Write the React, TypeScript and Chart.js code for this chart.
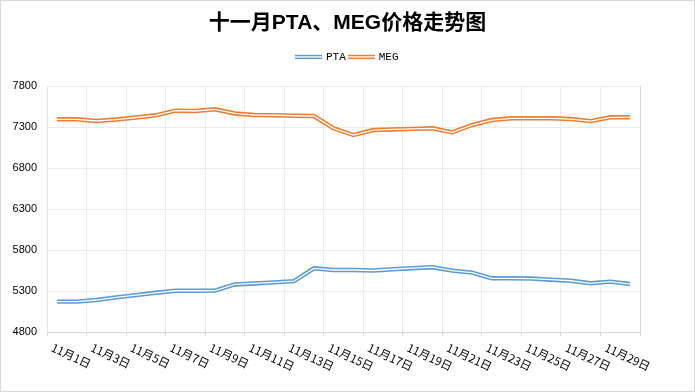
import React, { useEffect, useRef } from 'react';
import { Chart, registerables } from 'chart.js';

Chart.register(...registerables);

const titleText = '十一月PTA、MEG价格走势图';

const categories = [
  '11月1日', '11月2日', '11月3日', '11月4日', '11月5日', '11月6日', '11月7日', '11月8日', '11月9日', '11月10日',
  '11月11日', '11月12日', '11月13日', '11月14日', '11月15日', '11月16日', '11月17日', '11月18日', '11月19日', '11月20日',
  '11月21日', '11月22日', '11月23日', '11月24日', '11月25日', '11月26日', '11月27日', '11月28日', '11月29日', '11月30日',
];

const ptaValues = [
  5170, 5170, 5190, 5222, 5250, 5278, 5303, 5303, 5305, 5380,
  5392, 5405, 5420, 5576, 5556, 5556, 5550, 5565, 5578, 5590,
  5548, 5524, 5455, 5455, 5452, 5438, 5425, 5394, 5414, 5385,
];

const megValues = [
  7394, 7394, 7373, 7391, 7416, 7443, 7499, 7495, 7516, 7465,
  7446, 7443, 7437, 7434, 7284, 7202, 7263, 7270, 7277, 7284,
  7235, 7324, 7385, 7406, 7406, 7406, 7397, 7372, 7418, 7418,
];

const seriesNames = ['PTA', 'MEG'];
const seriesColors = ['#5b9bd5', '#ed7d31'];

const yMin = 4800;
const yMax = 7800;
const yStep = 500;

function makeLegendImage(color: string) {
  const c = document.createElement('canvas');
  c.width = 27;
  c.height = 6;
  const g = c.getContext('2d')!;
  g.fillStyle = color;
  g.fillRect(0, 0.8, 27, 1.5);
  g.fillRect(0, 3.6, 27, 1.5);
  return c;
}

const bgPlugin = {
  id: 'bgBorder',
  beforeDraw(chart: any) {
    const { ctx, width, height } = chart;
    ctx.save();
    ctx.fillStyle = '#ffffff';
    ctx.fillRect(0, 0, width, height);
    ctx.restore();
  },
  afterDraw(chart: any) {
    const { ctx, width, height } = chart;
    ctx.save();
    ctx.strokeStyle = '#d9d9d9';
    ctx.lineWidth = 1;
    ctx.strokeRect(0.5, 0.5, width - 1, height - 1);
    ctx.restore();
  },
};

const legendSpacer = {
  id: 'legendSpacer',
  beforeLayout(chart: any) {
    const lg = chart.legend;
    if (lg && !lg.__patched) {
      const orig = lg.fit;
      lg.fit = function () {
        orig.call(this);
        this.height += 13.5;
      };
      lg.__patched = true;
    }
  },
};

const doubleLine = {
  id: 'doubleLine',
  afterDatasetDraw(chart: any, args: any) {
    const pts = args.meta.data;
    if (!pts || !pts.length) return;
    const ctx = chart.ctx;
    ctx.save();
    ctx.beginPath();
    pts.forEach((p: any, i: number) => {
      if (i === 0) ctx.moveTo(p.x, p.y);
      else ctx.lineTo(p.x, p.y);
    });
    ctx.strokeStyle = '#ffffff';
    ctx.lineWidth = 1.3;
    ctx.lineJoin = 'miter';
    ctx.stroke();
    ctx.restore();
  },
};

const xLabels = {
  id: 'xLabels',
  afterDraw(chart: any) {
    const xs = chart.scales.x;
    const ctx = chart.ctx;
    const bottom = chart.chartArea.bottom;
    ctx.save();
    ctx.fillStyle = '#000000';
    ctx.font = '11.5px "Noto Sans CJK SC", sans-serif';
    ctx.textAlign = 'left';
    ctx.textBaseline = 'top';
    for (let i = 0; i < categories.length; i += 2) {
      const x = xs.getPixelForValue(i);
      ctx.save();
      ctx.translate(x - 2.4, bottom + 9.5);
      ctx.rotate((25 * Math.PI) / 180);
      ctx.fillText(categories[i], 0, 0);
      ctx.restore();
    }
    ctx.restore();
  },
};

export default function App() {
  const ref = useRef<HTMLCanvasElement | null>(null);

  useEffect(() => {
    document.body.style.margin = '0';
    const canvas = ref.current;
    if (!canvas) return;
    const legendImgs = seriesColors.map(makeLegendImage);
    const chart = new Chart(canvas, {
      type: 'line',
      data: {
        labels: categories,
        datasets: [
          {
            label: seriesNames[0],
            data: ptaValues,
            borderColor: seriesColors[0],
            backgroundColor: seriesColors[0],
            borderWidth: 4.4,
            pointRadius: 0,
            pointHoverRadius: 0,
            tension: 0,
            fill: false,
          },
          {
            label: seriesNames[1],
            data: megValues,
            borderColor: seriesColors[1],
            backgroundColor: seriesColors[1],
            borderWidth: 4.4,
            pointRadius: 0,
            pointHoverRadius: 0,
            tension: 0,
            fill: false,
          },
        ],
      },
      options: {
        responsive: false,
        animation: false,
        layout: { padding: { top: 0, right: 0, bottom: 56, left: 0 } },
        plugins: {
          title: {
            display: true,
            text: titleText,
            color: '#000000',
            font: { family: '"Liberation Sans", "Noto Sans CJK SC", sans-serif', size: 21, weight: 'bold' },
            padding: { top: 11, bottom: 11.8 },
          },
          legend: {
            display: true,
            position: 'top',
            labels: {
              usePointStyle: true,
              pointStyleWidth: 24,
              padding: 3.5,
              color: '#000000',
              font: { family: '"Liberation Mono", monospace', size: 11 },
              generateLabels: (ch: any) =>
                ch.data.datasets.map((ds: any, i: number) => ({
                  text: ds.label,
                  pointStyle: legendImgs[i],
                  fillStyle: seriesColors[i],
                  strokeStyle: seriesColors[i],
                  lineWidth: 0,
                  hidden: false,
                  datasetIndex: i,
                })),
            },
          },
          tooltip: { enabled: false },
        },
        scales: {
          x: {
            type: 'category',
            offset: true,
            grid: {
              offset: true,
              drawTicks: true,
              tickLength: 4,
              color: (c: any) =>
                c.index === undefined ? '#d9d9d9' : c.index % 2 === 0 ? '#ebebeb' : 'rgba(0,0,0,0)',
              tickColor: (c: any) =>
                c.index === undefined ? '#d9d9d9' : c.index % 2 === 0 ? '#d9d9d9' : 'rgba(0,0,0,0)',
            },
            border: { display: true, color: '#d9d9d9' },
            ticks: { display: false },
          },
          y: {
            min: yMin,
            max: yMax,
            afterFit: (s: any) => {
              s.width = 47;
            },
            ticks: {
              stepSize: yStep,
              padding: 10,
              color: '#000000',
              font: { family: '"Liberation Sans", sans-serif', size: 11 },
              callback: (v: any) => String(v),
            },
            grid: { color: '#ebebeb', drawTicks: false },
            border: { display: true, color: '#e3e3e3' },
          },
          yRight: {
            type: 'linear',
            position: 'right',
            display: true,
            min: yMin,
            max: yMax,
            afterFit: (s: any) => {
              s.width = 55;
            },
            grid: { display: false, drawTicks: false },
            border: { display: false },
            ticks: { display: false },
          },
        },
      },
      plugins: [bgPlugin, legendSpacer, doubleLine, xLabels],
    } as any);
    return () => chart.destroy();
  }, []);

  return (
    <div style={{ width: 695, height: 392 }}>
      <canvas ref={ref} width={695} height={392} style={{ display: 'block' }} />
    </div>
  );
}
